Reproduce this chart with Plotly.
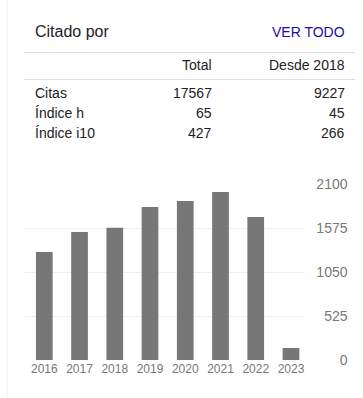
import plotly.graph_objects as go

# ---- data ----
years = ["2016", "2017", "2018", "2019", "2020", "2021", "2022", "2023"]
citations = [1290, 1530, 1580, 1828, 1900, 2008, 1709, 143]
y_ticks = [0, 525, 1050, 1575, 2100]

row_labels = ["Citas", "Índice h", "Índice i10"]
col_labels = ["Total", "Desde 2018"]
total_vals = ["17567", "65", "427"]
since_vals = ["9227", "45", "266"]

W, H = 363, 398
FONT = "Arial, Liberation Sans, sans-serif"


def px(x):
    return x / W


def py(y):
    return 1 - y / H


fig = go.Figure()
fig.add_trace(go.Bar(x=years, y=citations, marker=dict(color="#777777", line=dict(width=0)),
                     hoverinfo="x+y"))

annotations = []


def txt(text, x, y, size, color, anchor):
    annotations.append(dict(text=text, x=px(x), y=py(y), xref="paper", yref="paper",
                            xanchor=anchor, yanchor="middle", showarrow=False,
                            font=dict(family=FONT, size=size, color=color)))


txt("Citado por", 33, 31.5, 16, "#222222", "left")
txt("VER TODO", 346.5, 31.5, 14, "#1a0dab", "right")
txt(col_labels[0], 213.5, 65.5, 14, "#222222", "right")
txt(col_labels[1], 346.5, 65.5, 14, "#222222", "right")
row_y = [92.8, 113, 133]
for lab, tv, sv, yy in zip(row_labels, total_vals, since_vals, row_y):
    txt(lab, 33, yy, 14, "#222222", "left")
    txt(tv, 213.5, yy, 14, "#222222", "right")
    txt(sv, 346.5, yy, 14, "#222222", "right")

shapes = [
    dict(type="line", xref="paper", yref="paper", x0=px(24), x1=px(355), y0=py(52.5), y1=py(52.5),
         line=dict(color="#e0e0e0", width=1)),
    dict(type="line", xref="paper", yref="paper", x0=px(24), x1=px(355), y0=py(79.5), y1=py(79.5),
         line=dict(color="#e0e0e0", width=1)),
    dict(type="line", xref="paper", yref="paper", x0=px(7), x1=px(7), y0=0, y1=1,
         line=dict(color="#eeeeee", width=1)),
]

fig.update_layout(
    template="none",
    width=W, height=H,
    margin=dict(l=0, r=0, t=0, b=0, pad=0, autoexpand=False),
    paper_bgcolor="white", plot_bgcolor="white",
    showlegend=False,
    bargap=0.526,
    annotations=annotations,
    shapes=shapes,
    font=dict(family=FONT),
    xaxis=dict(type="category", domain=[px(24), px(305)], range=[-0.576, 7.398],
               showgrid=False, zeroline=False, showline=False, ticks="", automargin=False,
               tickfont=dict(family=FONT, size=12, color="#777777"), fixedrange=True),
    yaxis=dict(range=[0, 2100], domain=[py(360), py(184.3)], anchor="free", position=px(347.5),
               side="left", tickvals=y_ticks, ticktext=[str(v) for v in y_ticks], automargin=False,
               showgrid=True, gridcolor="#eeeeee", gridwidth=1, zeroline=False, showline=False,
               ticks="", tickfont=dict(family=FONT, size=14, color="#777777"), fixedrange=True),
)

post = (
    "document.documentElement.style.margin='0';"
    "document.body.style.margin='0';document.body.style.padding='0';"
    "document.body.style.overflow='hidden';"
)
fig.write_html("out.html", config={"displayModeBar": False}, post_script=post)
